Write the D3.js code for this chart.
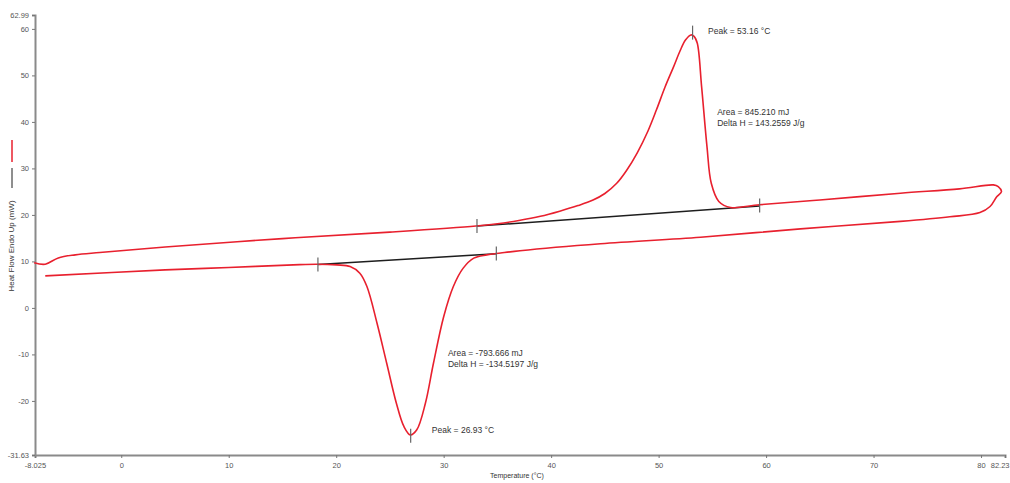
<!DOCTYPE html>
<html>
<head>
<meta charset="utf-8">
<script src="https://cdn.jsdelivr.net/npm/d3@7"></script>
<style>
  body { margin: 0; background: #fff; }
  svg { display: block; font-family: "Liberation Sans", Arial, sans-serif; }
</style>
</head>
<body>
<div id="chart"></div>
<script>
const lineColor = '#e8202e';
const baseColor = '#1e1e1e';
const axisColor = '#8a8a8a';
const textColor = '#333333';

// heating run (temperature °C, heat flow mW)
const heatT = [-8.1, -7.07, -5.86, -4.28, -2, 4.09, 15, 25, 33.0, 35, 37, 39, 40.8, 42.5, 43.9, 45, 46.1, 47, 48, 49, 49.8, 50.6, 51.4, 52, 52.5, 53.0, 53.3, 53.6, 54.0, 54.5, 54.9, 55.6, 56.7, 59.4, 65, 72.5, 78, 81.15, 81.6, 81.9];
const heatV = [9.7, 9.4, 10.75, 11.4, 11.9, 13.1, 14.9, 16.3, 17.6, 18.1, 18.8, 19.7, 20.8, 22.0, 23.2, 24.6, 26.8, 29.5, 33.3, 38.0, 42.6, 47.5, 51.9, 55.3, 57.6, 58.7, 58.4, 56.9, 47.6, 34.7, 26.8, 22.9, 21.6, 22.2, 23.2, 24.67, 25.6, 26.45, 26.1, 25.0];
// cooling run
const coolT = [81.46, 80.84, 79.9, 77.1, 72.5, 63.2, 53.9, 44.6, 37.1, 35.3, 34.0, 32.8, 31.8, 30.9, 30.0, 29.05, 28.3, 27.5, 26.9, 26.3, 25.6, 24.7, 23.8, 22.86, 22.2, 21.3, 20.06, 18.2, 16.6, 10, 4.09, -7.07];
const coolV = [23.9, 21.8, 20.5, 19.6, 18.6, 17.0, 15.2, 13.8, 12.3, 11.8, 11.4, 10.7, 8.5, 4.6, -1.9, -11.9, -20.5, -26.2, -27.3, -25.5, -20.5, -11.9, -3.3, 4.6, 7.46, 8.9, 9.25, 9.4, 9.3, 8.7, 8.17, 6.88];

// integration baselines
const baseUpperT = [33.1, 59.4];
const baseUpperV = [17.6, 21.9];
const baseLowerT = [18.3, 34.9];
const baseLowerV = [9.35, 11.65];

// marker ticks on the curve
const markT = [33.1, 59.4, 18.3, 34.9, 53.16, 26.93];
const markV = [17.6, 22.0, 9.35, 11.7, 59.2, -27.5];

const xTicks = [-8.025, 0, 10, 20, 30, 40, 50, 60, 70, 80, 82.23];
const xTickLabels = ['-8.025', '0', '10', '20', '30', '40', '50', '60', '70', '80', '82.23'];
const yTicks = [62.99, 60, 50, 40, 30, 20, 10, 0, -10, -20, -31.63];
const yTickLabels = ['62.99', '60', '50', '40', '30', '20', '10', '0', '-10', '-20', '-31.63'];

const notes = [
  {t: 54.6, v: 58.8, text: 'Peak = 53.16 °C'},
  {t: 55.45, v: 41.5, text: 'Area = 845.210 mJ'},
  {t: 55.45, v: 39.1, text: 'Delta H = 143.2559 J/g'},
  {t: 30.4, v: -10.4, text: 'Area = -793.666 mJ'},
  {t: 30.4, v: -12.8, text: 'Delta H = -134.5197 J/g'},
  {t: 28.9, v: -26.9, text: 'Peak = 26.93 °C'}
];

const width = 1010;
const height = 483;
const plotLeft = 35, plotRight = 1005, plotTop = 15, plotBottom = 455;

const xScale = d3.scaleLinear().domain([-8.025, 82.23]).range([plotLeft, plotRight]);
const yScale = d3.scaleLinear().domain([-31.63, 62.99]).range([plotBottom, plotTop]);

const svg = d3.select('#chart')
  .append('svg')
  .attr('width', width)
  .attr('height', height);

svg.append('rect').attr('width', width).attr('height', height).attr('fill', '#fff');

/* axes */
const xAxis = svg.append('g')
  .attr('transform', `translate(0, ${plotBottom})`)
  .call(d3.axisBottom(xScale).tickValues(xTicks).tickSize(3).tickFormat((d, i) => xTickLabels[i]));
xAxis.select('.domain').attr('stroke', axisColor).attr('stroke-width', 2);
xAxis.selectAll('line').attr('stroke', '#777');
xAxis.selectAll('text').attr('fill', '#555').style('font-size', '7.5px').attr('dy', '0.9em');
// last label sits against the right edge
xAxis.selectAll('.tick:last-of-type text').attr('text-anchor', 'end').attr('x', 4);

const yAxis = svg.append('g')
  .attr('transform', `translate(${plotLeft}, 0)`)
  .call(d3.axisLeft(yScale).tickValues(yTicks).tickSize(3).tickFormat((d, i) => yTickLabels[i]));
yAxis.select('.domain').attr('stroke', axisColor).attr('stroke-width', 2);
yAxis.selectAll('line').attr('stroke', '#777');
yAxis.selectAll('text').attr('fill', '#555').style('font-size', '7.5px').attr('x', -6);

svg.append('text')
  .attr('x', 517)
  .attr('y', 478)
  .attr('text-anchor', 'middle')
  .attr('fill', textColor)
  .style('font-size', '7px')
  .text('Temperature (°C)');

// y title with legend swatches
svg.append('text')
  .attr('transform', 'translate(14, 246) rotate(-90)')
  .attr('text-anchor', 'middle')
  .attr('fill', textColor)
  .style('font-size', '8px')
  .text('Heat Flow Endo Up (mW)');
svg.append('line')
  .attr('x1', 12).attr('x2', 12).attr('y1', 140).attr('y2', 162)
  .attr('stroke', lineColor).attr('stroke-width', 1.5);
svg.append('line')
  .attr('x1', 12).attr('x2', 12).attr('y1', 168).attr('y2', 188)
  .attr('stroke', baseColor).attr('stroke-width', 1);

/* curve */
const loopT = heatT.concat(coolT);
const loopV = heatV.concat(coolV);
const loop = loopT.map((t, i) => ({t, v: loopV[i]}));

const line = d3.line()
  .x(d => xScale(d.t))
  .y(d => yScale(d.v))
  .curve(d3.curveCatmullRom.alpha(0.5));

const baseLine = d3.line().x(d => xScale(d.t)).y(d => yScale(d.v));

[[baseUpperT, baseUpperV], [baseLowerT, baseLowerV]].forEach(([ts, vs]) => {
  svg.append('path')
    .datum(ts.map((t, i) => ({t, v: vs[i]})))
    .attr('fill', 'none')
    .attr('stroke', baseColor)
    .attr('stroke-width', 1.5)
    .attr('d', baseLine);
});

svg.append('path')
  .datum(loop)
  .attr('fill', 'none')
  .attr('stroke', lineColor)
  .attr('stroke-width', 1.6)
  .attr('stroke-linejoin', 'round')
  .attr('d', line);

markT.forEach((t, i) => {
  svg.append('line')
    .attr('x1', xScale(t)).attr('x2', xScale(t))
    .attr('y1', yScale(markV[i]) - 7).attr('y2', yScale(markV[i]) + 7)
    .attr('stroke', '#666')
    .attr('stroke-width', 1.2);
});

/* annotations */
notes.forEach(n => {
  svg.append('text')
    .attr('x', xScale(n.t))
    .attr('y', yScale(n.v))
    .attr('fill', textColor)
    .style('font-size', '8.5px')
    .text(n.text);
});
</script>
</body>
</html>
